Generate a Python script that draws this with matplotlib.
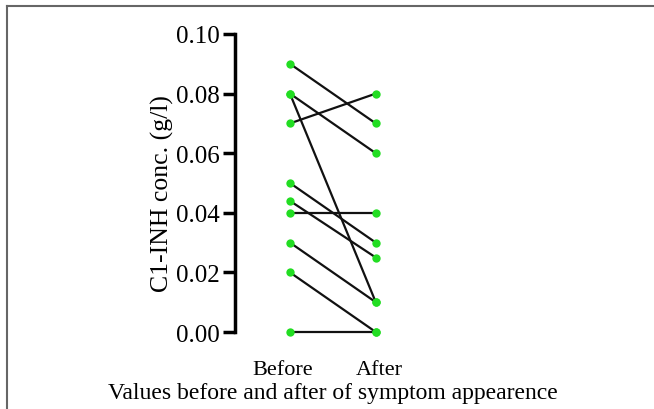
import matplotlib.pyplot as plt
import matplotlib.transforms as mtransforms
from matplotlib.lines import Line2D

# paired values (g/l), one entry per patient
before = [0.09, 0.08, 0.08, 0.07, 0.05, 0.044, 0.04, 0.03, 0.02, 0.00]
after = [0.07, 0.06, 0.01, 0.08, 0.03, 0.025, 0.04, 0.01, 0.00, 0.00]
groups = ["Before", "After"]
yticks = [0.00, 0.02, 0.04, 0.06, 0.08, 0.10]

plt.rcParams['font.family'] = ['Liberation Serif', 'DejaVu Serif']

fig = plt.figure(figsize=(6.54, 4.10), dpi=100)
ax = fig.add_axes([235 / 654, 1 - 333 / 410, 200 / 654, 298 / 410])

for b, a in zip(before, after):
    ax.plot([0, 1], [b, a], color="#111111", lw=1.6, zorder=2, clip_on=False)
ax.scatter([0] * len(before), before, s=36, color="#22dd22", zorder=3,
           linewidths=0, clip_on=False)
ax.scatter([1] * len(after), after, s=36, color="#22dd22", zorder=3,
           linewidths=0, clip_on=False)

ax.set_xlim(-0.64, 1.69)
ax.set_ylim(0, 0.10)
ax.set_yticks(yticks)
ax.set_yticklabels(["%.2f" % v for v in yticks], fontsize=18)
ax.set_xticks([0, 1])
ax.set_xticklabels(groups, fontsize=16)
ax.tick_params(axis="y", width=2.5, length=9, pad=2)
ax.tick_params(axis="x", length=0, pad=20)

# nudge the group labels a little, as in the original
for lab, dx in zip(ax.get_xticklabels(), [-7, 4]):
    lab.set_transform(lab.get_transform() +
                      mtransforms.ScaledTranslation(dx / 100, 0, fig.dpi_scale_trans))

for s in ["top", "right", "bottom"]:
    ax.spines[s].set_visible(False)
ax.spines["left"].set_linewidth(2.5)
ax.spines["left"].set_bounds(0, 0.10)

ax.set_ylabel("C1-INH conc. (g/l)", fontsize=18.5)
ax.yaxis.label.set_verticalalignment("center")
ax.yaxis.set_label_coords((162 - 235) / 200, (333 - 194) / 298)
fig.text(333 / 654, 1 - 394 / 410, "Values before and after of symptom appearence",
         fontsize=17, ha="center", va="center")

# thin grey frame (top and left edge only)
fig.add_artist(Line2D([7 / 654, 7 / 654], [0, 1 - 6.5 / 410], color="#666666", lw=1.5))
fig.add_artist(Line2D([7 / 654, 1], [1 - 6.5 / 410, 1 - 6.5 / 410], color="#666666", lw=1.5))

fig.savefig("out.png", dpi=100)
